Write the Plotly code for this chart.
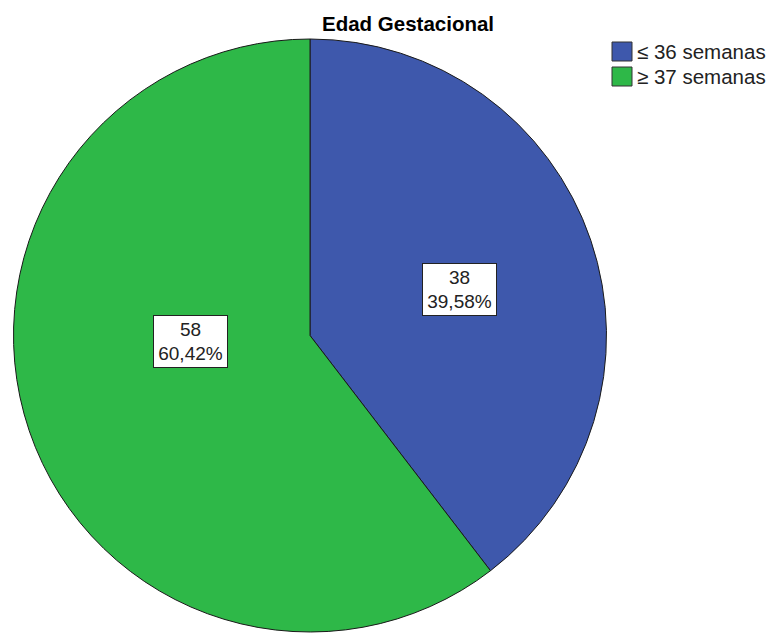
import plotly.graph_objects as go

# Data
categories = ["≤ 36 semanas", "≥ 37 semanas"]
counts = [38, 58]
colors = ["#3E58AC", "#2EB848"]
title_text = "Edad Gestacional"

W, H = 770, 633
FONT = "Liberation Sans, Arial, sans-serif"

total = sum(counts)


def pct_label(v):
    return f"{v / total * 100:.2f}".replace(".", ",") + "%"


def px_x(x):
    return x / W


def px_y(y):
    return 1 - y / H


fig = go.Figure(
    go.Pie(
        labels=categories,
        values=counts,
        sort=False,
        direction="clockwise",
        rotation=0,
        marker=dict(colors=colors, line=dict(color="#1a1a1a", width=1)),
        textinfo="none",
        hoverinfo="label+value+percent",
        showlegend=False,
        domain=dict(x=[px_x(11), px_x(609)], y=[px_y(632), px_y(39)]),
    )
)

annotations = []
shapes = []

# Title
annotations.append(dict(
    text="<b>" + title_text + "</b>", x=px_x(408), y=px_y(24),
    xref="paper", yref="paper", xanchor="center", yanchor="middle",
    showarrow=False, font=dict(family=FONT, size=20.5, color="#000000"),
))

# Value labels inside slices (boxed)
label_centers = [(459.5, 289.5), (190.5, 341)]
for v, (cx, cy) in zip(counts, label_centers):
    annotations.append(dict(
        text=f"{v}<br>{pct_label(v)}", x=px_x(cx), y=px_y(cy),
        xref="paper", yref="paper", xanchor="center", yanchor="middle",
        showarrow=False, align="center",
        font=dict(family=FONT, size=19, color="#222222"),
        bgcolor="#ffffff", bordercolor="#222222", borderwidth=1, borderpad=0,
        width=73, height=51,
    ))

# Legend drawn as swatches + text
for i, (cat, col) in enumerate(zip(categories, colors)):
    y0 = 42 + i * 25
    shapes.append(dict(
        type="rect", xref="paper", yref="paper",
        x0=px_x(612), x1=px_x(632), y0=px_y(y0 + 19), y1=px_y(y0),
        fillcolor=col, line=dict(color="#333333", width=1),
    ))
    annotations.append(dict(
        text=cat, x=px_x(635), y=px_y(y0 + 9.5),
        xref="paper", yref="paper", xanchor="left", yanchor="middle",
        showarrow=False, font=dict(family=FONT, size=20.5, color="#222222"),
    ))

fig.update_layout(
    width=W, height=H,
    margin=dict(l=0, r=0, t=0, b=0),
    paper_bgcolor="#ffffff", plot_bgcolor="#ffffff",
    annotations=annotations, shapes=shapes,
)

fig.write_html("out.html")
